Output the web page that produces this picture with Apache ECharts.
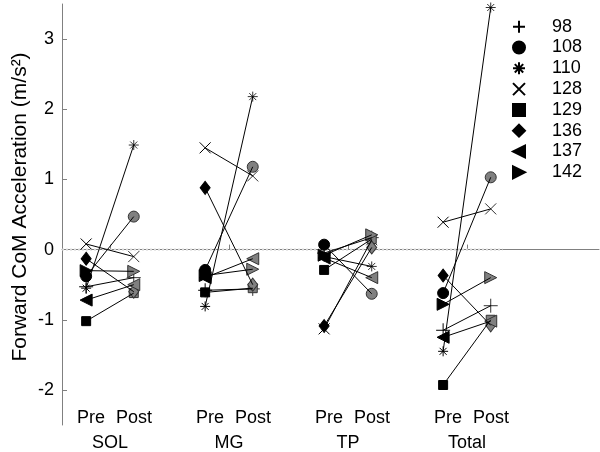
<!DOCTYPE html>
<html>
<head>
<meta charset="utf-8">
<script src="https://cdn.jsdelivr.net/npm/echarts@6/dist/echarts.min.js"></script>
<style>html,body{margin:0;padding:0;background:#fff;}#c{width:600px;height:452px;}</style>
</head>
<body>
<div id="c"></div>
<script>
// ---- data ----
const groups = ['SOL', 'MG', 'TP', 'Total'];
const phaseLabel = ['Pre', 'Post'];
const subjects = ['98', '108', '110', '128', '129', '136', '137', '142'];
const yTicks = [-2, -1, 0, 1, 2, 3];

const pre98  = [-0.53, -0.58, -0.05, -1.15];
const post98 = [-0.40, -0.56,  0.17, -0.80];
const pre108  = [-0.38, -0.29,  0.07, -0.62];
const post108 = [ 0.47,  1.18, -0.63,  1.03];
const pre110  = [-0.55, -0.81, -0.10, -1.45];
const post110 = [ 1.49,  2.18, -0.24,  3.45];
const pre128  = [ 0.08,  1.45, -1.13,  0.39];
const post128 = [-0.10,  1.05,  0.14,  0.58];
const pre129  = [-1.02, -0.61, -0.29, -1.93];
const post129 = [-0.62, -0.55,  0.15, -1.00];
const pre136  = [-0.13,  0.88, -1.09, -0.37];
const post136 = [-0.60, -0.50,  0.03, -1.08];
const pre137  = [-0.72, -0.40, -0.12, -1.25];
const post137 = [-0.50, -0.13, -0.40, -1.02];
const pre142  = [-0.30, -0.37, -0.08, -0.78];
const post142 = [-0.31, -0.28,  0.21, -0.40];

const preVals  = {'98': pre98, '108': pre108, '110': pre110, '128': pre128, '129': pre129, '136': pre136, '137': pre137, '142': pre142};
const postVals = {'98': post98, '108': post108, '110': post110, '128': post128, '129': post129, '136': post136, '137': post137, '142': post142};

// ---- styling ----
const FONT = "'Liberation Sans', Arial, sans-serif";
const OFFSET = 0.2;
const X_MIN = 0.597, X_MAX = 5.11;
const ZERO_END = 4.3;
const plusPath = 'path://M0,-1L0,1M-1,0L1,0';
const crossPath = 'path://M-1,-1L1,1M-1,1L1,-1';
const starPath = 'path://M0,-1L0,1M-1,0L1,0M-0.7,-0.7L0.7,0.7M-0.7,0.7L0.7,-0.7';
const leftTri = 'path://M1,-1L1,1L-1,0Z';
const rightTri = 'path://M-1,-1L-1,1L1,0Z';
const markers = {
  '98':  {symbol: plusPath, size: 14, stroke: true},
  '108': {symbol: 'circle', size: 11},
  '110': {symbol: starPath, size: 10, stroke: true},
  '128': {symbol: crossPath, size: 11, stroke: true},
  '129': {symbol: 'rect', size: 9},
  '136': {symbol: 'diamond', size: [10, 13]},
  '137': {symbol: leftTri, size: 12},
  '142': {symbol: rightTri, size: 12}
};

const series = [];
series.push({
  type: 'line', name: 'zero', data: [[X_MIN, 0], [ZERO_END, 0]], symbol: 'none', silent: true, z: 1,
  lineStyle: {color: '#d6d6d6', width: 2, type: 'dotted'}
});

subjects.forEach(s => {
  const m = markers[s];
  const lineData = [];
  const preData = [], postData = [];
  groups.forEach((g, i) => {
    const xp = i + 1 - OFFSET, xq = i + 1 + OFFSET;
    lineData.push([xp, preVals[s][i]], [xq, postVals[s][i]], ['-', '-']);
    preData.push([xp, preVals[s][i]]);
    postData.push([xq, postVals[s][i]]);
  });
  series.push({
    type: 'line', name: s + ' line', data: lineData, symbol: 'none', connectNulls: false,
    lineStyle: {color: '#000', width: 1}, silent: true
  });
  series.push({
    type: 'scatter', name: s + ' post', data: postData, symbol: m.symbol, symbolSize: m.size,
    itemStyle: m.stroke ? {color: '#000', borderColor: '#000', borderWidth: 1}
                        : {color: '#808080', borderColor: '#333', borderWidth: 1, opacity: 1}
  });
  series.push({
    type: 'scatter', name: s, data: preData, symbol: m.symbol, symbolSize: m.size,
    itemStyle: {color: '#000', borderColor: '#000', borderWidth: 1, opacity: 1}
  });
});

const chart = echarts.init(document.getElementById('c'), null, {renderer: 'canvas'});
chart.setOption({
  animation: false,
  backgroundColor: '#fff',
  textStyle: {fontFamily: FONT},
  grid: {left: 62, right: 1, top: 4, bottom: 26, containLabel: false},
  xAxis: [{
    type: 'value', min: X_MIN, max: X_MAX, position: 'bottom',
    axisLine: {show: true, lineStyle: {color: '#808080', width: 1}},
    axisTick: {show: true, inside: true, length: 5, customValues: [1, 2, 3, 4], lineStyle: {color: '#808080'}},
    axisLabel: {show: true, margin: 9, customValues: [1, 2, 3, 4], fontSize: 18, color: '#000', fontFamily: FONT,
      formatter: v => groups[Math.round(v) - 1]},
    splitLine: {show: false}
  }, {
    type: 'value', min: X_MIN, max: X_MAX, position: 'bottom',
    axisLine: {show: false}, axisTick: {show: false}, splitLine: {show: false},
    axisLabel: {show: true, inside: true, margin: -2, customValues: [1, 2, 3, 4], fontSize: 18, color: '#000', fontFamily: FONT,
      formatter: () => '{p|' + phaseLabel[0] + '}{q|' + phaseLabel[1] + '}',
      rich: {p: {fontSize: 18, fontFamily: FONT, color: '#000', padding: [0, 0, 0, 9]},
             q: {fontSize: 18, fontFamily: FONT, color: '#000', padding: [0, 0, 0, 11]}}}
  }],
  yAxis: {
    type: 'value', min: -2.5, max: 3.5,
    axisLine: {show: true, lineStyle: {color: '#808080', width: 1}},
    axisTick: {show: true, inside: true, length: 5, customValues: yTicks, lineStyle: {color: '#808080'}},
    axisLabel: {show: true, margin: 8, customValues: yTicks, fontSize: 18, color: '#000', fontFamily: FONT},
    splitLine: {show: false}
  },
  legend: {
    orient: 'vertical', left: 512, top: 17.7, padding: 0, itemWidth: 12, itemHeight: 12, itemGap: 2.8,
    data: subjects, selectedMode: false,
    textStyle: {fontSize: 18, color: '#000', fontFamily: FONT, padding: [0, 0, 0, 22]}
  },
  graphic: [{
    type: 'text', x: 20, y: 207, rotation: Math.PI / 2,
    style: {text: 'Forward CoM Acceleration (m/s²)', fontSize: 21, fontFamily: FONT, fill: '#000',
      textAlign: 'center', textVerticalAlign: 'middle'}
  }],
  series: series
});
</script>
</body>
</html>
